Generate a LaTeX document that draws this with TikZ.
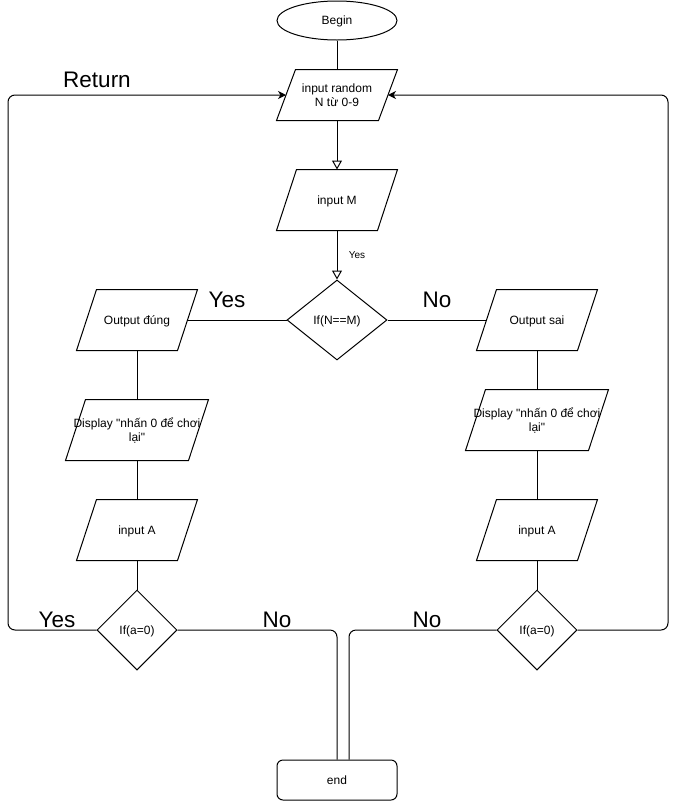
\documentclass[tikz,border=0pt]{standalone}
\usepackage{fontspec}
\setmainfont{Liberation Sans}
% same face without the TeX quote mapping, for straight quotes
\newfontfamily\qfont{Liberation Sans}
\newcommand\dq{{\qfont"}}
\usetikzlibrary{arrows.meta,shapes.geometric}
% outline of a slanted input/output box drawn around a named node
\newcommand\slantframe[2]{\draw ([xshift=#2]#1.north west) -- (#1.north east) -- ([xshift=-#2]#1.south east) -- (#1.south west) -- cycle;}
\begin{document}
\begin{tikzpicture}[x=1pt,y=-1pt,line width=1pt,
  every node/.style={font=\fontsize{12}{14}\selectfont,inner sep=0pt,align=center,text depth=0pt},
  iobox/.style={rectangle,minimum width=120pt,minimum height=60pt},
  widebox/.style={rectangle,minimum width=142pt,minimum height=60pt},
  decision/.style={diamond,draw,minimum width=#1,minimum height=80pt},
  biglabel/.style={font=\fontsize{22.5}{26}\selectfont},
  smalllabel/.style={font=\fontsize{10}{12}\selectfont},
  openarrow/.style={-{Triangle[open,length=9pt,width=10pt]}},
  backarrow/.style={-{Stealth[length=8pt,width=8pt,inset=2.5pt]},rounded corners=7pt},
  joinline/.style={rounded corners=7pt}]
\useasboundingbox (0,0) rectangle (686,801);

% main column
\node[ellipse,draw,minimum width=120pt,minimum height=39pt] (begin) at (337,20.5) {Begin};
\node[iobox,minimum height=50pt] (inr) at (337,95) {input random\\N từ 0-9};
\slantframe{inr}{19pt}
\node[iobox] (inm) at (337,200) {input M};
\slantframe{inm}{20pt}
\node[decision=100pt] (d1) at (337,320) {If(N==M)};
\node[rectangle,draw,rounded corners=6pt,minimum width=120pt,minimum height=40pt] (endn) at (337,780) {end};

% left branch
\node[iobox] (od) at (137,320) {Output đúng};
\slantframe{od}{20pt}
\node[widebox] (dispL) at (137,430) {Display \dq nhấn 0 để chơi\\lại\dq};
\slantframe{dispL}{20pt}
\node[iobox] (iaL) at (137,530) {input A};
\slantframe{iaL}{20pt}
\node[decision=80pt] (dl) at (137,630) {If(a=0)};

% right branch
\node[iobox] (os) at (537,320) {Output sai};
\slantframe{os}{20pt}
\node[widebox] (dispR) at (537,420) {Display \dq nhấn 0 để chơi\\lại\dq};
\slantframe{dispR}{20pt}
\node[iobox] (iaR) at (537,530) {input A};
\slantframe{iaR}{20pt}
\node[decision=80pt] (dr) at (537,630) {If(a=0)};

% labels
\node[smalllabel] (lyes) at (357,255) {Yes};
\node[biglabel] (lret) at (97,80) {Return};
\node[biglabel] (lyesA) at (227,300) {Yes};
\node[biglabel] (lnoA) at (437,300) {No};
\node[biglabel] (lyesB) at (57,620) {Yes};
\node[biglabel] (lnoB) at (277,620) {No};
\node[biglabel] (lnoC) at (427,620) {No};

% connectors
\draw (begin.south) -- (inr.north);
\draw[openarrow] (inr.south) -- (inm.north);
\draw[openarrow] (inm.south) -- (d1.north);
\draw (d1.west) -- ([xshift=-10pt]od.east);
\draw (d1.east) -- ([xshift=10pt]os.west);
\draw (od.south) -- (dispL.north);
\draw (dispL.south) -- (iaL.north);
\draw (iaL.south) -- (dl.north);
\draw (os.south) -- (dispR.north);
\draw (dispR.south) -- (iaR.north);
\draw (iaR.south) -- (dr.north);
\draw[backarrow] (dl.west) -- (8,630) |- ([xshift=9.5pt]inr.west);
\draw[backarrow] (dr.east) -- (668,630) |- ([xshift=-9.5pt]inr.east);
\draw[joinline] (dl.east) -| (endn.north);
\draw[joinline] (dr.west) -| ([xshift=12pt]endn.north);
\end{tikzpicture}
\end{document}
